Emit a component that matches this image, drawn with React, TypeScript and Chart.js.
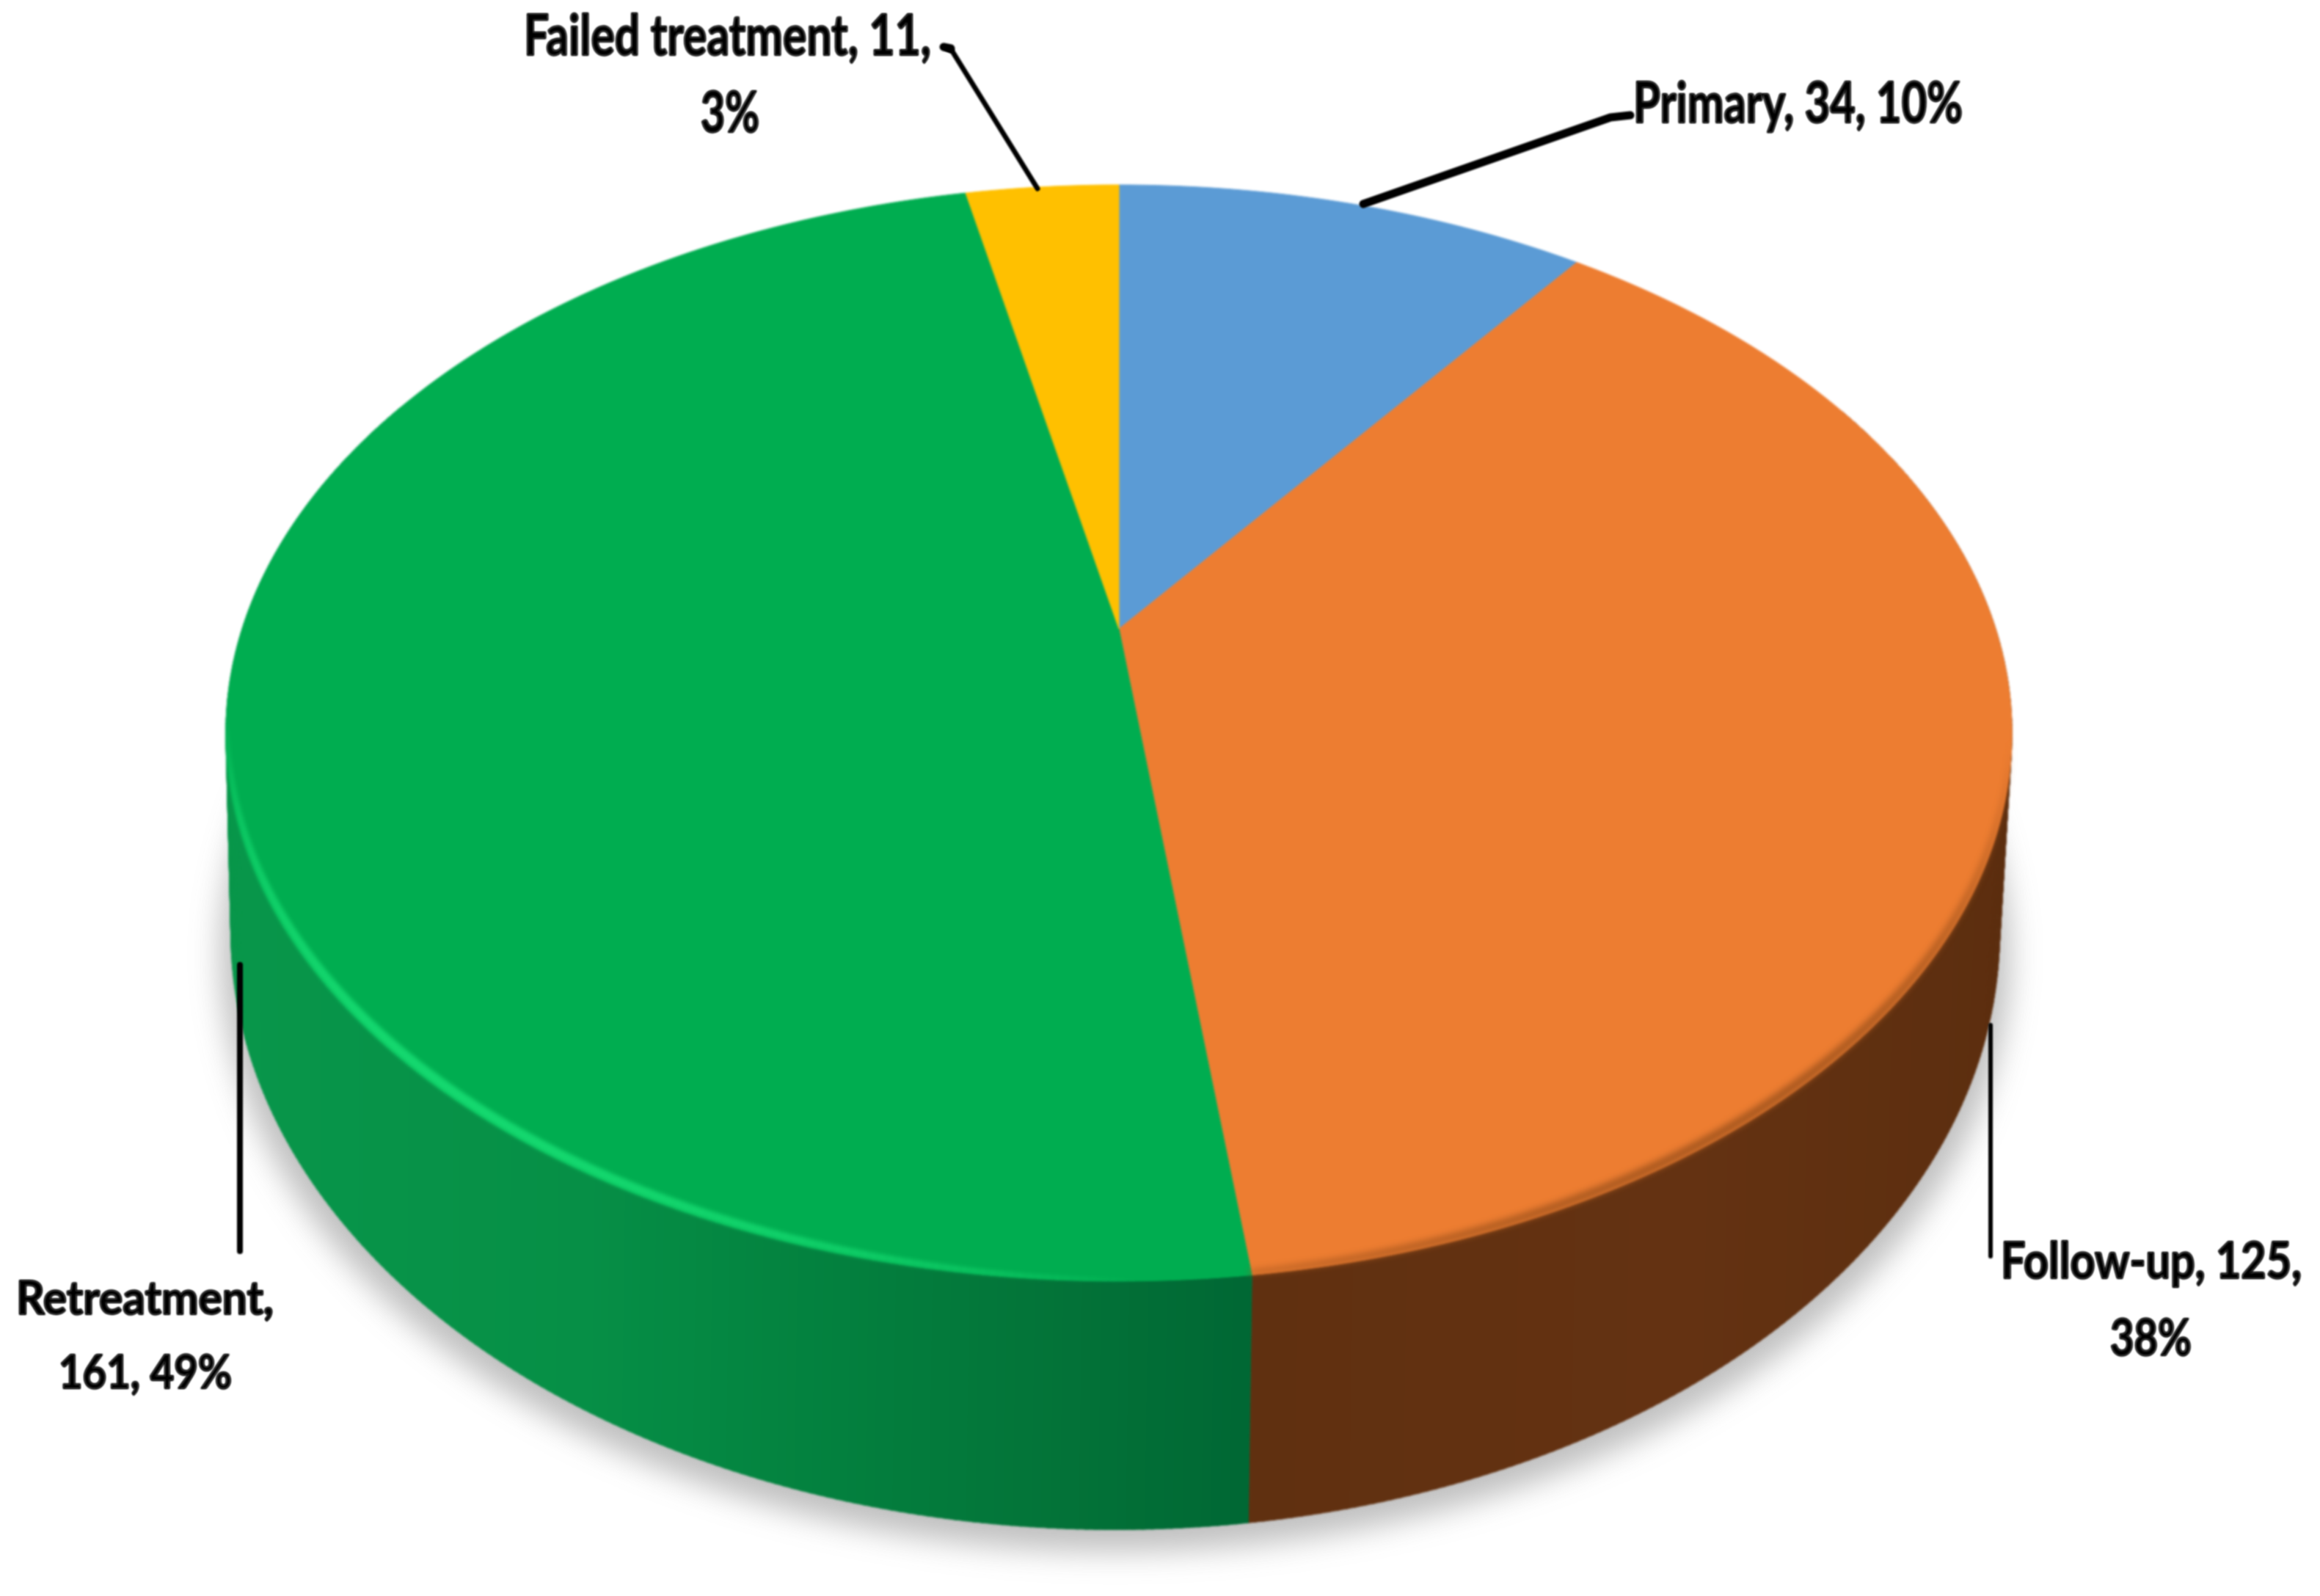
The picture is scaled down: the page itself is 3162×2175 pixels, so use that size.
import React, { useEffect, useRef } from "react";
import { Chart, registerables } from "chart.js";

Chart.register(...registerables);

const categories = ["Primary", "Follow-up", "Retreatment", "Failed treatment"];
const counts = [34, 125, 161, 11];
const percents = ["10%", "38%", "49%", "3%"];
const topColors = ["#5B9BD5", "#ED7D31", "#00AD50", "#FFC000"];

// side-wall colour stops, as [canvas x, colour rgb]
const sideStops: [number, number[]][][] = [
  [[0, [50, 90, 125]], [3162, [50, 90, 125]]],
  [[1700, [96, 48, 16]], [2300, [100, 50, 18]], [2750, [92, 46, 15]]],
  [[320, [8, 150, 74]], [800, [6, 143, 70]], [1150, [3, 128, 62]], [1450, [3, 115, 56]], [1700, [0, 104, 52]]],
  [[0, [150, 112, 0]], [3162, [150, 112, 0]]],
];

const topDisc = { x0: 1525, y0: 857, a: 1195, b: 720, k: 0.19 };
const baseDisc = { x0: 1520, y0: 1107, a: 1181, b: 782, k: 0.2 };

type Lbl = { lines: { t: string; x0: number; x1: number; base: number }[]; size: number };
const labelBoxes: Lbl[] = [
  { size: 76, lines: [{ t: `${categories[0]}, ${counts[0]}, ${percents[0]}`, x0: 2226, x1: 2675, base: 167 }] },
  {
    size: 68,
    lines: [
      { t: `${categories[1]}, ${counts[1]},`, x0: 2727, x1: 3137, base: 1742 },
      { t: percents[1], x0: 2876, x1: 2987, base: 1847 },
    ],
  },
  {
    size: 63,
    lines: [
      { t: `${categories[2]},`, x0: 22, x1: 373, base: 1791 },
      { t: `${counts[2]}, ${percents[2]}`, x0: 80, x1: 316, base: 1892 },
    ],
  },
  {
    size: 76,
    lines: [
      { t: `${categories[3]}, ${counts[3]},`, x0: 714, x1: 1269, base: 75 },
      { t: percents[3], x0: 955, x1: 1035, base: 180 },
    ],
  },
];

const leaders: { w: number; pts: number[][] }[] = [
  { w: 11, pts: [[1858, 278], [2195, 160], [2222, 157]] },
  { w: 6, pts: [[2713, 1397], [2713, 1712]] },
  { w: 8, pts: [[327, 1315], [327, 1705]] },
  { w: 7, pts: [[1414, 257], [1298, 70], [1290, 66]] },
  { w: 11, pts: [[1296, 66], [1286, 64]] },
];

type Disc = typeof topDisc;
function project(d: Disc, angle: number) {
  // chart.js angle: -PI/2 is the top of the pie, clockwise
  const u = Math.cos(angle);
  const v = Math.sin(angle);
  const den = 1 - d.k * v;
  return { x: d.x0 + (d.a * u) / den, y: d.y0 + (d.b * v) / den };
}

function sideColor(stops: [number, number[]][], x: number) {
  if (x <= stops[0][0]) return `rgb(${stops[0][1].join(",")})`;
  for (let i = 1; i < stops.length; i++) {
    if (x <= stops[i][0]) {
      const t = (x - stops[i - 1][0]) / (stops[i][0] - stops[i - 1][0]);
      const c = stops[i][1].map((v, j) => Math.round(stops[i - 1][1][j] + (v - stops[i - 1][1][j]) * t));
      return `rgb(${c.join(",")})`;
    }
  }
  return `rgb(${stops[stops.length - 1][1].join(",")})`;
}

const STEP = Math.PI / 360;

const pie3d = {
  id: "pie3d",
  beforeDatasetDraw() {
    return false; // the arcs are painted in perspective below
  },
  beforeDatasetsDraw(chart: any) {
    const arcs = chart.getDatasetMeta(0).data as any[];
    const W = chart.width;
    const H = chart.height;
    const off = document.createElement("canvas");
    off.width = W;
    off.height = H;
    const o = off.getContext("2d") as CanvasRenderingContext2D;

    // side wall
    arcs.forEach((arc, i) => {
      const { startAngle: s, endAngle: e } = arc;
      for (let t = s; t < e; t += STEP) {
        const t2 = Math.min(t + STEP * 1.4, e);
        const a = project(topDisc, t);
        const b = project(topDisc, t2);
        const c = project(baseDisc, t2);
        const d = project(baseDisc, t);
        if (Math.sin(t) < -0.45) continue;
        const col = sideColor(sideStops[i], a.x);
        o.fillStyle = col;
        o.strokeStyle = col;
        o.lineWidth = 1;
        o.beginPath();
        o.moveTo(a.x, a.y);
        o.lineTo(b.x, b.y);
        o.lineTo(c.x, c.y);
        o.lineTo(d.x, d.y);
        o.closePath();
        o.fill();
        o.stroke();
      }
    });

    // top face
    arcs.forEach((arc, i) => {
      const { startAngle: s, endAngle: e } = arc;
      o.fillStyle = topColors[i];
      o.strokeStyle = topColors[i];
      o.lineWidth = 1;
      o.beginPath();
      o.moveTo(topDisc.x0, topDisc.y0);
      for (let t = s; t < e; t += STEP) {
        const p = project(topDisc, t);
        o.lineTo(p.x, p.y);
      }
      const p = project(topDisc, e);
      o.lineTo(p.x, p.y);
      o.closePath();
      o.fill();
      o.stroke();
    });

    // bevel along the near rim, tapered at both ends
    const rim = (idx: number, color: string, width: number, blur: number, from: number, to: number) => {
      const arc = arcs[idx];
      const s = Math.max(arc.startAngle, from);
      const e = Math.min(arc.endAngle, to);
      const layer = document.createElement("canvas");
      layer.width = W;
      layer.height = H;
      const l = layer.getContext("2d") as CanvasRenderingContext2D;
      l.strokeStyle = color;
      l.lineCap = "butt";
      for (let t = s; t < e; t += STEP) {
        const f = Math.pow(Math.sin((Math.PI * (t - from)) / (to - from)), 0.6);
        const w = width * f;
        const inset = w / 2 + 0.5;
        const p = project(topDisc, t);
        const q = project(topDisc, t + STEP * 1.1);
        l.lineWidth = w;
        l.globalAlpha = f;
        l.beginPath();
        l.moveTo(p.x - inset * Math.cos(t), p.y - inset * Math.sin(t));
        l.lineTo(q.x - inset * Math.cos(t), q.y - inset * Math.sin(t));
        l.stroke();
      }
      o.save();
      o.filter = `blur(${blur}px)`;
      o.drawImage(layer, 0, 0);
      o.restore();
    };
    rim(2, "#14D86F", 14, 2.5, Math.PI * 0.49, Math.PI * 0.95);
    rim(1, "#A8581F", 12, 4, 0.2, Math.PI * 0.52);

    const ctx = chart.ctx as CanvasRenderingContext2D;

    // soft cast shadow
    ctx.save();
    ctx.filter = "blur(20px)";
    ctx.fillStyle = "rgba(80,80,80,0.36)";
    ctx.beginPath();
    for (let t = 0; t < Math.PI * 2; t += STEP * 2) {
      const p = project(baseDisc, t);
      const x = p.x + (p.x - baseDisc.x0) * 0.012;
      const y = p.y + 30;
      if (t === 0) ctx.moveTo(x, y);
      else ctx.lineTo(x, y);
    }
    ctx.closePath();
    ctx.fill();
    ctx.restore();

    ctx.save();
    ctx.filter = "blur(1.8px)";
    ctx.drawImage(off, 0, 0);
    ctx.restore();
  },
  afterDatasetsDraw(chart: any) {
    const ctx = chart.ctx as CanvasRenderingContext2D;
    ctx.save();
    ctx.filter = "blur(1.3px)";
    ctx.strokeStyle = "#000";
    ctx.lineJoin = "round";
    ctx.lineCap = "round";
    leaders.forEach((l) => {
      ctx.lineWidth = l.w;
      ctx.beginPath();
      l.pts.forEach((p, i) => (i ? ctx.lineTo(p[0], p[1]) : ctx.moveTo(p[0], p[1])));
      ctx.stroke();
    });
    ctx.fillStyle = "#000";
    ctx.textBaseline = "alphabetic";
    ctx.textAlign = "left";
    labelBoxes.forEach((b) => {
      ctx.font = `bold ${b.size}px Lato`;
      b.lines.forEach((ln) => {
        const m = ctx.measureText(ln.t).width;
        ctx.save();
        ctx.translate(ln.x0, ln.base);
        ctx.scale((ln.x1 - ln.x0) / m, 1);
        ctx.lineWidth = 2;
        ctx.strokeText(ln.t, 0, 0);
        ctx.fillText(ln.t, 0, 0);
        ctx.restore();
      });
    });
    ctx.restore();
  },
};

export default function App() {
  const ref = useRef<HTMLCanvasElement>(null);
  useEffect(() => {
    const chart = new Chart(ref.current as HTMLCanvasElement, {
      type: "pie",
      data: {
        labels: categories,
        datasets: [{ data: counts, backgroundColor: topColors, borderWidth: 0 }],
      },
      options: {
        responsive: false,
        animation: false,
        devicePixelRatio: 1,
        plugins: { legend: { display: false }, tooltip: { enabled: false } },
      },
      plugins: [pie3d as any],
    });
    return () => chart.destroy();
  }, []);
  return (
    <div style={{ position: "absolute", left: 0, top: 0, background: "#fff" }}>
      <canvas ref={ref} width={3162} height={2175} style={{ display: "block" }} />
    </div>
  );
}
